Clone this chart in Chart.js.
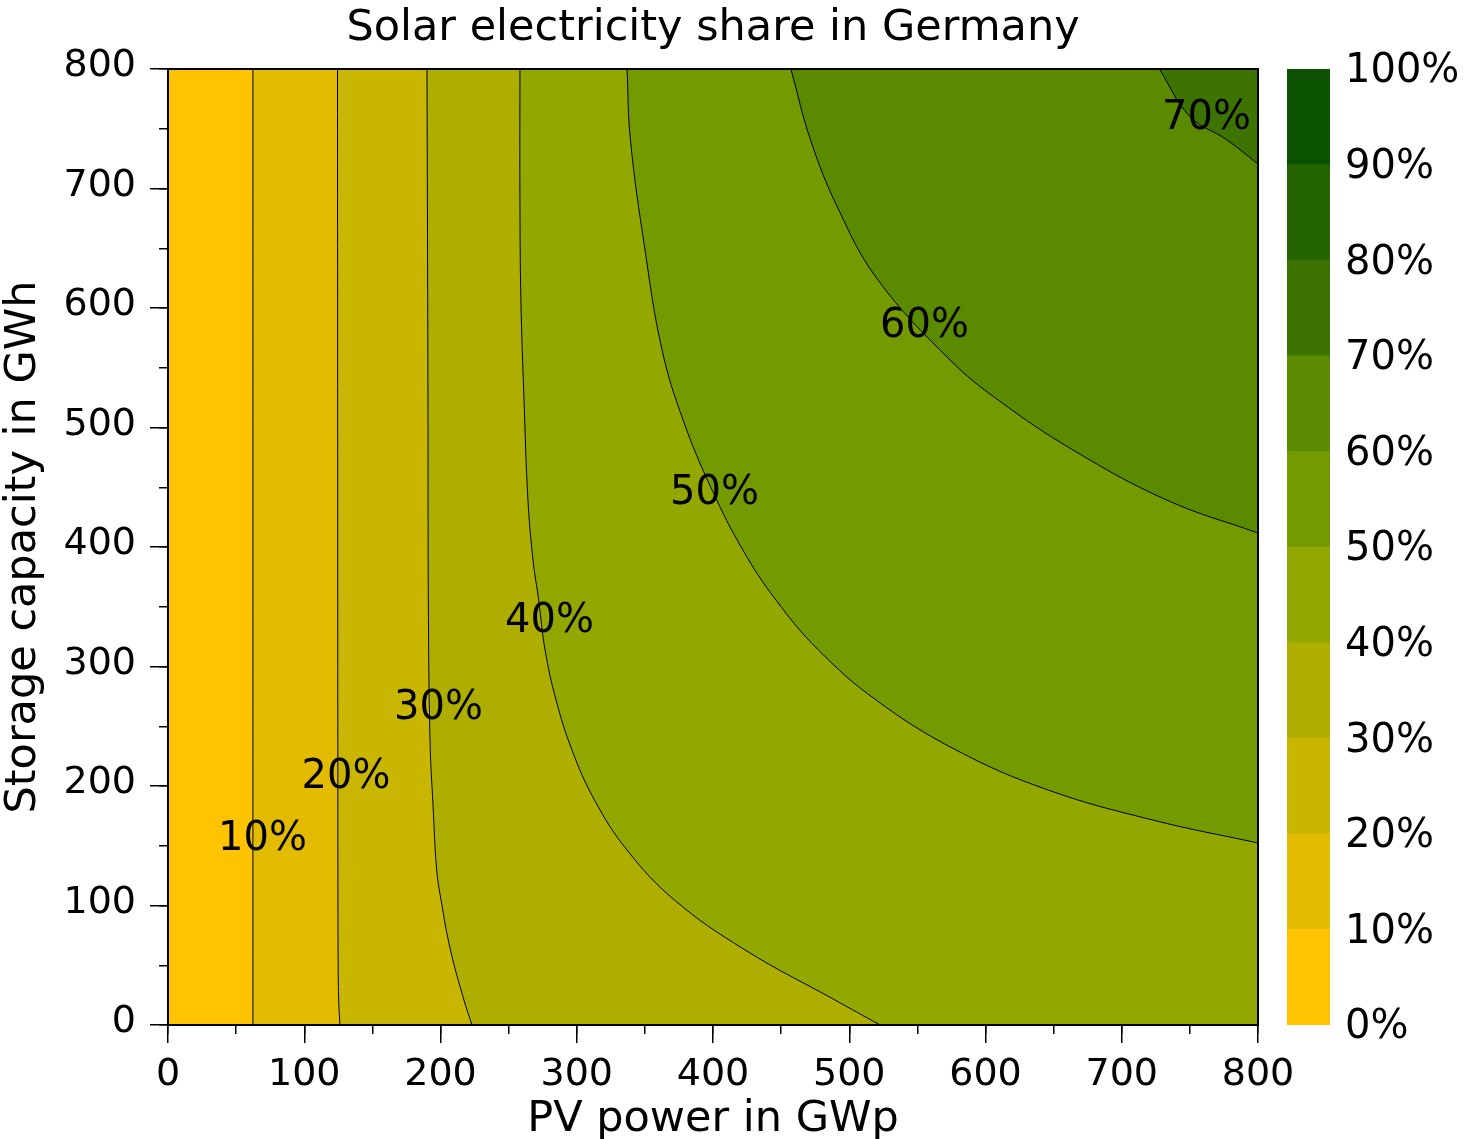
<!DOCTYPE html>
<html>
<head>
<meta charset="utf-8">
<title>Solar electricity share in Germany</title>
<script src="https://cdn.jsdelivr.net/npm/chart.js@4.4.1/dist/chart.umd.min.js"></script>
<style>
  html, body { margin: 0; padding: 0; background: #fff; }
  #wrap { position: relative; width: 1464px; height: 1139px; }
  #main { position: absolute; left: 0; top: 0; }
  #bar { position: absolute; left: 1287px; top: 0; }
</style>
</head>
<body>
<div id="wrap">
  <canvas id="main" width="1464" height="1139"></canvas>
  <canvas id="bar" width="177" height="1139"></canvas>
</div>
<script>
// ---- axes ----
const PV_MIN = 0, PV_MAX = 800;
const STORAGE_MIN = 0, STORAGE_MAX = 800;
const pvTickValues = [0, 100, 200, 300, 400, 500, 600, 700, 800];
const storageTickValues = [0, 100, 200, 300, 400, 500, 600, 700, 800];
const pvMinorTicks = [0, 50, 100, 150, 200, 250, 300, 350, 400, 450, 500, 550, 600, 650, 700, 750, 800];
const storageMinorTicks = [0, 50, 100, 150, 200, 250, 300, 350, 400, 450, 500, 550, 600, 650, 700, 750, 800];
const shareTickValues = [0, 10, 20, 30, 40, 50, 60, 70, 80, 90, 100];

// ---- colour of each 10 % band of solar share ----
const shareColors = ['#FFC300', '#E3BB00', '#C8B600', '#AEAE00', '#92A700',
                     '#739A00', '#5A8A00', '#3D7300', '#236300', '#0A5200'];

// ---- iso-share contour lines: PV power (GWp) at given storage capacity (GWh) ----
const contourLevels = [10, 20, 30, 40, 50, 60, 70];

const contour10Storage = [0, 400, 800];
const contour10Pv      = [62.3, 62.3, 62.3];

const contour20Storage = [0, 20, 50, 120, 300, 800];
const contour20Pv      = [126.2, 125.3, 124.9, 124.7, 124.6, 124.4];

const contour30Storage = [0, 20.9, 62.8, 104.6, 129.7, 184, 238.5, 350, 523, 800];
const contour30Pv      = [223.1, 217.2, 207.3, 200.4, 197.2, 194.5, 192.3, 191.1, 190.8, 190.1];

const contour40Storage = [0, 20.9, 62.8, 104.6, 146.4, 188.3, 230.1, 272, 314, 356, 389, 439, 523, 607, 690, 800];
const contour40Pv      = [522.6, 489.5, 423.5, 371.7, 336.9, 313.0, 296.5, 284.8, 276.7, 272, 267.9, 264.2, 261.3, 259, 258.3, 258.3];

const contour50Storage = [152.3, 171.5, 196.7, 230.1, 272, 313.8, 355.6, 397.5, 447.7, 506.3, 564.9, 648.5, 740.6, 800];
const contour50Pv      = [800, 722.8, 645.8, 578.4, 519.6, 477.4, 446.2, 421.9, 399.3, 378, 362.6, 350.1, 339.4, 336.9];

const contour60Storage = [411.7, 439.3, 481.2, 523, 556.5, 623.4, 682, 740.6, 800];
const contour60Pv      = [800, 733, 664.2, 609.3, 574, 521.1, 492.3, 471.6, 457.2];

const contour70Storage = [720.5, 740.8, 760.3, 800];
const contour70Pv      = [800, 777, 750, 727.6];

// ---- inline contour labels (text centres) ----
const labelTexts   = ['10%', '20%', '30%', '40%', '50%', '60%', '70%'];
const labelPv      = [69.4, 130.6, 198.5, 280.0, 401.1, 555.2, 762.2];
const labelStorage = [157.3, 209.2, 266.9, 339.7, 446.4, 586.6, 760.3];

const FONT = 'DejaVu Sans';
const TITLE_SIZE = 43;
const TICK_SIZE = 38;
const LABEL_SIZE = 40;
Chart.defaults.font.family = FONT;
Chart.defaults.color = '#000';

const contourSets = [
  [contour10Pv, contour10Storage],
  [contour20Pv, contour20Storage],
  [contour30Pv, contour30Storage],
  [contour40Pv, contour40Storage],
  [contour50Pv, contour50Storage],
  [contour60Pv, contour60Storage],
  [contour70Pv, contour70Storage]
];

// every contour fills the region of higher share lying to its right
const datasets = contourSets.map(([pv, storage], i) => {
  const level = contourLevels[i];
  return {
    label: level + '%',
    data: storage.map((s, j) => ({ x: pv[j], y: s })),
    xAxisID: 'x',
    yAxisID: 'y',
    borderColor: '#000',
    borderWidth: 1,
    backgroundColor: shareColors[level / 10],
    fill: { value: PV_MAX },
    pointRadius: 0,
    pointHoverRadius: 0,
    tension: 0.4,
    order: 100 - level
  };
});

const lowestBand = {
  id: 'lowestBand',
  beforeDatasetsDraw(chart) {
    const { ctx, chartArea: a } = chart;
    ctx.save();
    ctx.fillStyle = shareColors[0];
    ctx.fillRect(a.left, a.top, a.right - a.left, a.bottom - a.top);
    ctx.restore();
  }
};

const contourLabels = {
  id: 'contourLabels',
  afterDatasetsDraw(chart) {
    const { ctx, scales } = chart;
    ctx.save();
    ctx.font = LABEL_SIZE + 'px "' + FONT + '"';
    ctx.fillStyle = '#000';
    ctx.textAlign = 'center';
    ctx.textBaseline = 'middle';
    const capShift = 0.06 * LABEL_SIZE; // centre the digits rather than the em box
    labelTexts.forEach((t, i) => {
      ctx.fillText(t, scales.x.getPixelForValue(labelPv[i]),
                   scales.y.getPixelForValue(labelStorage[i]) + capShift);
    });
    ctx.restore();
  }
};

const ticksFrom = arr => scale => { scale.ticks = arr.map(v => ({ value: v })); };

new Chart(document.getElementById('main'), {
  type: 'line',
  data: { datasets },
  plugins: [lowestBand, contourLabels],
  options: {
    responsive: false,
    animation: false,
    indexAxis: 'y',
    events: [],
    layout: { padding: { left: 0, right: 206, top: 0, bottom: 0 } },
    plugins: {
      legend: { display: false },
      tooltip: { enabled: false },
      title: {
        display: true,
        text: 'Solar electricity share in Germany',
        color: '#000',
        fullSize: false,
        font: { size: TITLE_SIZE, weight: 'normal', lineHeight: 1.2 },
        padding: { top: 3.2, bottom: 14.2 }
      }
    },
    scales: {
      x: {
        type: 'linear', position: 'bottom', min: PV_MIN, max: PV_MAX,
        afterBuildTicks: ticksFrom(pvTickValues),
        ticks: { font: { size: TICK_SIZE }, padding: 9, maxRotation: 0, autoSkip: false },
        grid: { drawOnChartArea: false, tickLength: 18, color: '#000', lineWidth: 1.5 },
        border: { color: '#000', width: 2, z: 1 },
        title: { display: true, text: 'PV power in GWp', font: { size: TITLE_SIZE, lineHeight: 0.884 }, padding: 0 },
        afterFit: s => { s.height = 114; }
      },
      y: {
        type: 'linear', position: 'left', min: STORAGE_MIN, max: STORAGE_MAX,
        afterBuildTicks: ticksFrom(storageTickValues),
        ticks: { font: { size: TICK_SIZE }, padding: 14, labelOffset: -2.5, autoSkip: false },
        grid: { drawOnChartArea: false, tickLength: 18, color: '#000', lineWidth: 1.5 },
        border: { color: '#000', width: 2, z: 1 },
        title: { display: true, text: 'Storage capacity in GWh', font: { size: TITLE_SIZE, lineHeight: 1 }, padding: { top: 2, bottom: 0 } },
        afterFit: s => { s.width = 168; }
      },
      xMinor: {
        axis: 'x', type: 'linear', position: { y: STORAGE_MIN }, min: PV_MIN, max: PV_MAX,
        afterBuildTicks: ticksFrom(pvMinorTicks),
        ticks: { display: false },
        grid: { drawOnChartArea: false, tickLength: 9, color: '#000', lineWidth: 1.5 },
        border: { display: false }
      },
      yMinor: {
        axis: 'y', type: 'linear', position: { x: PV_MIN }, min: STORAGE_MIN, max: STORAGE_MAX,
        afterBuildTicks: ticksFrom(storageMinorTicks),
        ticks: { display: false },
        grid: { drawOnChartArea: false, tickLength: 9, color: '#000', lineWidth: 1.5 },
        border: { display: false }
      },
      xTop: {
        axis: 'x', type: 'linear', position: { y: STORAGE_MAX }, min: PV_MIN, max: PV_MAX,
        ticks: { display: false },
        grid: { display: false, drawTicks: false },
        border: { color: '#000', width: 2, z: 1 }
      },
      yRight: {
        axis: 'y', type: 'linear', position: { x: PV_MAX }, min: STORAGE_MIN, max: STORAGE_MAX,
        ticks: { display: false },
        grid: { display: false, drawTicks: false },
        border: { color: '#000', width: 2, z: 1 }
      }
    }
  }
});

// ---- colour bar ----
const bandDatasets = shareColors.map((c, i) => ({
  label: shareTickValues[i] + '–' + shareTickValues[i + 1] + '%',
  data: [shareTickValues[i + 1] - shareTickValues[i]],
  backgroundColor: c,
  borderWidth: 0,
  barPercentage: 1,
  categoryPercentage: 1,
  stack: 'share'
}));

new Chart(document.getElementById('bar'), {
  type: 'bar',
  data: { labels: ['share'], datasets: bandDatasets },
  options: {
    responsive: false,
    animation: false,
    events: [],
    layout: { padding: { top: 69, bottom: 114, left: 0, right: 0 } },
    plugins: { legend: { display: false }, tooltip: { enabled: false } },
    scales: {
      x: { display: false, stacked: true },
      y: {
        stacked: true, position: 'right', min: 0, max: 100,
        afterBuildTicks: ticksFrom(shareTickValues),
        ticks: { font: { size: LABEL_SIZE }, padding: 15, labelOffset: 3, callback: v => v + '%' },
        grid: { display: false, drawTicks: false },
        border: { display: false },
        afterFit: s => { s.width = 134; }
      }
    }
  }
});
</script>
</body>
</html>
